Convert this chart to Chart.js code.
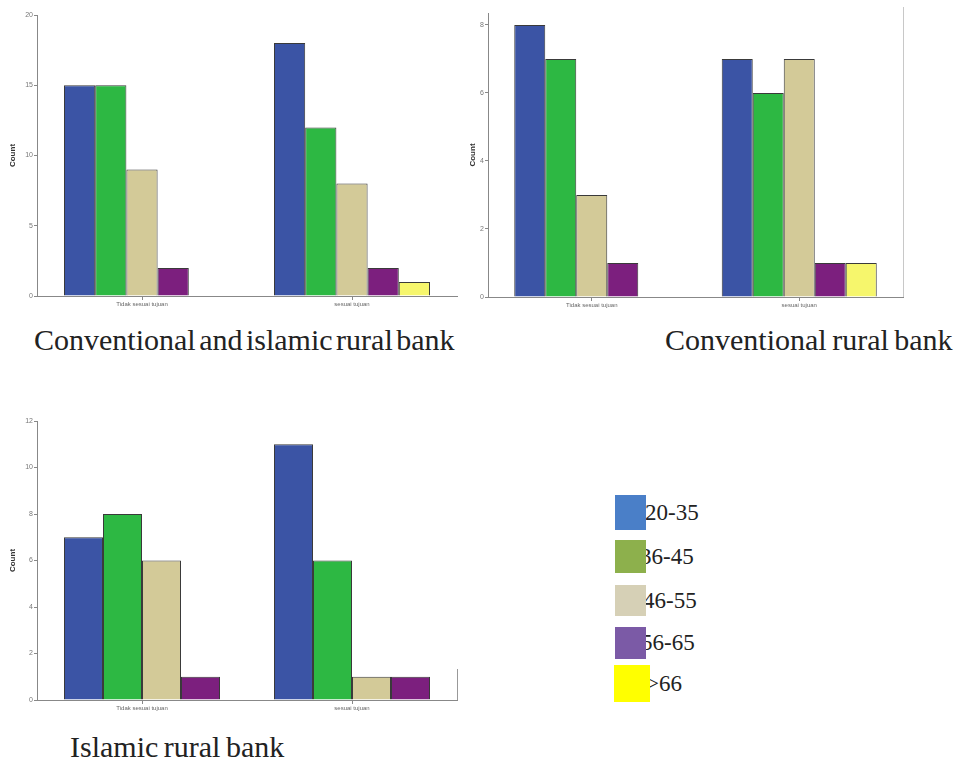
<!DOCTYPE html>
<html>
<head>
<meta charset="utf-8">
<script src="https://cdn.jsdelivr.net/npm/chart.js@4.4.1/dist/chart.umd.min.js"></script>
<style>
  body { margin: 0; background: #fff; width: 963px; height: 763px; position: relative; overflow: hidden; }
  .box { position: absolute; }
  .caption { position: absolute; font-family: "Liberation Serif", "Times New Roman", serif; font-size: 30px; line-height: 1; color: #222; white-space: nowrap; word-spacing: -2px; }
  .leg-text { position: absolute; font-family: "Liberation Serif", "Times New Roman", serif; font-size: 23px; line-height: 1; color: #222; }
  .leg-sq { position: absolute; z-index: 2; }
</style>
</head>
<body>

<div class="box" style="left:0;top:0;width:470px;height:320px"><canvas id="chart-both"></canvas></div>
<div class="box" style="left:460px;top:0;width:460px;height:321px"><canvas id="chart-conv"></canvas></div>
<div class="box" style="left:0;top:400px;width:470px;height:324px"><canvas id="chart-isl"></canvas></div>

<div class="caption" style="left:34px;top:325px;word-spacing:-4px">Conventional and islamic rural bank</div>
<div class="caption" style="left:665px;top:325px">Conventional rural bank</div>
<div class="caption" style="left:70px;top:732px">Islamic rural bank</div>

<div id="legend"></div>

<script>
// categorias e faixas etárias
const categorias = ['Tidak sesuai tujuan', 'sesuai tujuan'];
const faixas = ['20-35', '36-45', '46-55', '56-65', '>66'];

// contagens por categoria (ordem das faixas)
const ambosTidak = [15, 15, 9, 2, 0];
const ambosSesuai = [18, 12, 8, 2, 1];
const convTidak = [8, 7, 3, 1, 0];
const convSesuai = [7, 6, 7, 1, 1];
const islTidak = [7, 8, 6, 1];
const islSesuai = [11, 6, 1, 1];

// cores das barras e da legenda
const coresBarras = ['#3b54a5', '#2db843', '#d3ca98', '#7c1f7e', '#f6f66c'];
const coresLegenda = ['#4a7fc8', '#8db04c', '#d6d0b6', '#7b5aa6', '#ffff00'];

// moldura lateral (linha vertical à direita da área)
const molduraPlugin = {
  id: 'moldura',
  afterDraw(chart, args, opts) {
    if (!opts.show) return;
    const { ctx, chartArea } = chart;
    ctx.save();
    ctx.strokeStyle = opts.color || '#bbb';
    ctx.lineWidth = 1;
    ctx.beginPath();
    ctx.moveTo(chartArea.right + 0.5, chartArea.bottom - opts.height);
    ctx.lineTo(chartArea.right + 0.5, chartArea.bottom);
    ctx.stroke();
    ctx.restore();
  }
};

function criarGrafico(id, tidak, sesuai, cfg) {
  const datasets = tidak.map((v, i) => ({
    label: faixas[i],
    data: [tidak[i], sesuai[i]],
    backgroundColor: coresBarras[i],
    borderColor: '#3a3a3a',
    borderWidth: 1,
    borderSkipped: 'bottom',
    categoryPercentage: cfg.catPct,
    barPercentage: 1
  }));

  new Chart(document.getElementById(id), {
    type: 'bar',
    data: { labels: categorias, datasets },
    plugins: [molduraPlugin],
    options: {
      responsive: true,
      maintainAspectRatio: false,
      animation: false,
      devicePixelRatio: 1,
      layout: { padding: { top: cfg.padTop, right: cfg.padRight, left: 0, bottom: 0 } },
      plugins: {
        legend: { display: false },
        tooltip: { enabled: false },
        moldura: cfg.moldura
      },
      scales: {
        x: {
          offset: true,
          afterFit: s => { s.height = 24; },
          border: { color: '#888', width: 1 },
          grid: { drawOnChartArea: false, offset: false, tickLength: 4, color: '#888' },
          ticks: { font: { family: 'Liberation Sans', size: 6 }, color: '#666', padding: 1 }
        },
        y: {
          min: 0,
          max: cfg.max,
          afterFit: s => { s.width = cfg.yWidth; },
          afterBuildTicks: s => { s.ticks = s.ticks.filter(t => t.value % cfg.step === 0); },
          border: { color: '#888', width: 1 },
          grid: { drawOnChartArea: false, tickLength: 3, color: '#888' },
          ticks: { stepSize: cfg.step, font: { family: 'Liberation Sans', size: 7 }, color: '#777', padding: 1 },
          title: { display: true, text: 'Count', font: { family: 'Liberation Sans', size: 8, weight: 'bold' }, color: '#333', padding: { top: 8, bottom: 0 } }
        }
      }
    }
  });
}

criarGrafico('chart-both', ambosTidak, ambosSesuai, {
  max: 20, step: 5, yWidth: 37, padTop: 15, padRight: 13, catPct: 0.743,
  moldura: { show: false }
});
criarGrafico('chart-conv', convTidak, convSesuai, {
  max: 8.35, step: 2, yWidth: 28, padTop: 13, padRight: 17, catPct: 0.747,
  moldura: { show: true, height: 290, color: '#c8c8c8' }
});
criarGrafico('chart-isl', islTidak, islSesuai, {
  max: 12, step: 2, yWidth: 37, padTop: 21, padRight: 13, catPct: 0.743,
  moldura: { show: true, height: 31, color: '#999' }
});

// legenda separada (quadrados sobre o texto)
const legTops = [495, 540, 585, 627, 665];
const legHeights = [35, 33, 31, 32, 37];
const legWidths = [31, 31, 31, 31, 36];
const legTextLeft = [645, 640, 643, 641, 646];
const legenda = document.getElementById('legend');
faixas.forEach((f, i) => {
  const t = document.createElement('div');
  t.className = 'leg-text';
  t.textContent = f;
  t.style.left = legTextLeft[i] + 'px';
  t.style.top = (legTops[i] + legHeights[i] / 2 - 12) + 'px';
  legenda.appendChild(t);
  const q = document.createElement('div');
  q.className = 'leg-sq';
  q.style.left = (i === 4 ? 614 : 615) + 'px';
  q.style.top = legTops[i] + 'px';
  q.style.width = legWidths[i] + 'px';
  q.style.height = legHeights[i] + 'px';
  q.style.background = coresLegenda[i];
  legenda.appendChild(q);
});
</script>
</body>
</html>
